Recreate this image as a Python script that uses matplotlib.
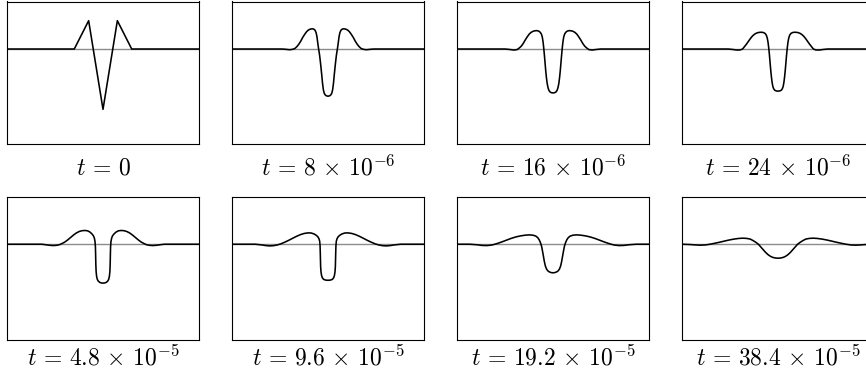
import matplotlib
matplotlib.use("Agg")
import matplotlib.pyplot as plt

plt.rcParams['mathtext.fontset'] = 'cm'
plt.rcParams['font.family'] = ['DejaVu Serif']

labels = [r'$t\,=\,0$', r'$t\,=\,8\,\times\,10^{-6}$', r'$t\,=\,16\,\times\,10^{-6}$',
          r'$t\,=\,24\,\times\,10^{-6}$', r'$t\,=\,4.8\,\times\,10^{-5}$',
          r'$t\,=\,9.6\,\times\,10^{-5}$', r'$t\,=\,19.2\,\times\,10^{-5}$',
          r'$t\,=\,38.4\,\times\,10^{-5}$']

x0 = [-1.0, -0.3, -0.15, 0.0, 0.15, 0.3, 1.0]
y0 = [0.0, 0.0, 0.47, -1.0, 0.47, 0.0, 0.0]

x1 = [-1.0, -0.48, -0.44, -0.40, -0.37, -0.345, -0.325, -0.305, -0.285, -0.265, -0.245,
      -0.225, -0.205, -0.185, -0.165, -0.148, -0.135, -0.124, -0.115, -0.107, -0.098,
      -0.088, -0.077, -0.066, -0.057, -0.049, -0.040, -0.030, -0.016, 0.0,
      0.016, 0.030, 0.040, 0.049, 0.057, 0.066, 0.077, 0.088, 0.098, 0.107, 0.115,
      0.124, 0.135, 0.148, 0.165, 0.185, 0.205, 0.225, 0.245, 0.265, 0.285, 0.305,
      0.325, 0.345, 0.37, 0.40, 0.44, 0.48, 1.0]
y1 = [0.0, 0.0, -0.005, -0.012, -0.005, 0.01, 0.04, 0.08, 0.13, 0.19, 0.24,
      0.285, 0.315, 0.33, 0.335, 0.33, 0.31, 0.27, 0.20, 0.10, 0.0,
      -0.10, -0.25, -0.42, -0.57, -0.67, -0.73, -0.76, -0.777, -0.782,
      -0.777, -0.76, -0.73, -0.67, -0.57, -0.42, -0.25, -0.10, 0.0, 0.10, 0.20,
      0.27, 0.31, 0.33, 0.335, 0.33, 0.315, 0.285, 0.24, 0.19, 0.13, 0.08,
      0.04, 0.01, -0.005, -0.012, -0.005, 0.0, 0.0]

x2 = [-1.0, -0.50, -0.45, -0.41, -0.375, -0.35, -0.33, -0.31, -0.29, -0.27, -0.25,
      -0.23, -0.21, -0.19, -0.17, -0.15, -0.135, -0.122, -0.112, -0.104, -0.097,
      -0.090, -0.083, -0.076, -0.069, -0.061, -0.052, -0.043, -0.032, -0.018, 0.0,
      0.018, 0.032, 0.043, 0.052, 0.061, 0.069, 0.076, 0.083, 0.090, 0.097,
      0.104, 0.112, 0.122, 0.135, 0.15, 0.17, 0.19, 0.21, 0.23, 0.25,
      0.27, 0.29, 0.31, 0.33, 0.35, 0.375, 0.41, 0.45, 0.50, 1.0]
y2 = [0.0, 0.0, -0.008, -0.017, -0.01, 0.02, 0.05, 0.095, 0.15, 0.20, 0.245,
      0.275, 0.293, 0.302, 0.305, 0.298, 0.28, 0.25, 0.20, 0.12, 0.02,
      -0.10, -0.23, -0.36, -0.47, -0.57, -0.64, -0.685, -0.71, -0.724, -0.728,
      -0.724, -0.71, -0.685, -0.64, -0.57, -0.47, -0.36, -0.23, -0.10, 0.02,
      0.12, 0.20, 0.25, 0.28, 0.298, 0.305, 0.302, 0.293, 0.275, 0.245,
      0.20, 0.15, 0.095, 0.05, 0.02, -0.01, -0.017, -0.008, 0.0, 0.0]

x3 = [-1.0, -0.52, -0.47, -0.43, -0.395, -0.37, -0.35, -0.33, -0.31, -0.29, -0.27,
      -0.25, -0.23, -0.21, -0.19, -0.17, -0.15, -0.135, -0.122, -0.112, -0.104,
      -0.097, -0.090, -0.083, -0.076, -0.069, -0.062, -0.054, -0.045, -0.033, -0.018, 0.0,
      0.018, 0.033, 0.045, 0.054, 0.062, 0.069, 0.076, 0.083, 0.090, 0.097,
      0.104, 0.112, 0.122, 0.135, 0.15, 0.17, 0.19, 0.21, 0.23, 0.25,
      0.27, 0.29, 0.31, 0.33, 0.35, 0.37, 0.395, 0.43, 0.47, 0.52, 1.0]
y3 = [0.0, 0.0, -0.008, -0.017, -0.015, 0.0, 0.04, 0.08, 0.125, 0.17, 0.21,
      0.24, 0.26, 0.272, 0.277, 0.278, 0.272, 0.258, 0.23, 0.18, 0.11,
      0.02, -0.09, -0.22, -0.35, -0.46, -0.55, -0.62, -0.66, -0.685, -0.695, -0.698,
      -0.695, -0.685, -0.66, -0.62, -0.55, -0.46, -0.35, -0.22, -0.09, 0.02,
      0.11, 0.18, 0.23, 0.258, 0.272, 0.278, 0.277, 0.272, 0.26, 0.24,
      0.21, 0.17, 0.125, 0.08, 0.04, 0.0, -0.015, -0.017, -0.008, 0.0, 0.0]

x4 = [-1.0, -0.64, -0.60, -0.56, -0.52, -0.485, -0.455, -0.43, -0.40, -0.37, -0.34,
      -0.31, -0.28, -0.25, -0.22, -0.19, -0.16, -0.135, -0.115, -0.10, -0.09,
      -0.083, -0.079, -0.077, -0.075, -0.072, -0.067, -0.06, -0.05, -0.035, -0.018, 0.0,
      0.018, 0.035, 0.05, 0.06, 0.067, 0.072, 0.075, 0.077, 0.079, 0.083,
      0.09, 0.10, 0.115, 0.135, 0.16, 0.19, 0.22, 0.25, 0.28, 0.31,
      0.34, 0.37, 0.40, 0.43, 0.455, 0.485, 0.52, 0.56, 0.60, 0.64, 1.0]
y4 = [0.0, 0.0, -0.008, -0.017, -0.022, -0.018, -0.008, 0.01, 0.035, 0.07, 0.11,
      0.15, 0.185, 0.21, 0.224, 0.228, 0.222, 0.20, 0.17, 0.14, 0.10,
      0.04, -0.05, -0.18, -0.33, -0.45, -0.53, -0.58, -0.61, -0.632, -0.642, -0.645,
      -0.642, -0.632, -0.61, -0.58, -0.53, -0.45, -0.33, -0.18, -0.05, 0.04,
      0.10, 0.14, 0.17, 0.20, 0.222, 0.228, 0.224, 0.21, 0.185, 0.15,
      0.11, 0.07, 0.035, 0.01, -0.008, -0.018, -0.022, -0.017, -0.008, 0.0, 0.0]

x5 = [-1.0, -0.76, -0.70, -0.65, -0.61, -0.57, -0.53, -0.49, -0.45, -0.41, -0.37,
      -0.33, -0.29, -0.25, -0.21, -0.175, -0.145, -0.12, -0.105, -0.094, -0.087,
      -0.083, -0.081, -0.079, -0.077, -0.073, -0.067, -0.058, -0.045, -0.025, 0.0,
      0.025, 0.045, 0.058, 0.067, 0.073, 0.077, 0.079, 0.081, 0.083,
      0.087, 0.094, 0.105, 0.12, 0.145, 0.175, 0.21, 0.25, 0.29, 0.33,
      0.37, 0.41, 0.45, 0.49, 0.53, 0.57, 0.61, 0.65, 0.70, 0.76, 1.0]
y5 = [0.0, 0.0, -0.01, -0.022, -0.028, -0.024, -0.012, 0.008, 0.035, 0.065, 0.098,
      0.13, 0.158, 0.178, 0.188, 0.186, 0.17, 0.145, 0.12, 0.09, 0.05,
      -0.02, -0.12, -0.25, -0.37, -0.46, -0.52, -0.56, -0.583, -0.595, -0.598,
      -0.595, -0.583, -0.56, -0.52, -0.46, -0.37, -0.25, -0.12, -0.02,
      0.05, 0.09, 0.12, 0.145, 0.17, 0.186, 0.188, 0.178, 0.158, 0.13,
      0.098, 0.065, 0.035, 0.008, -0.012, -0.024, -0.028, -0.022, -0.01, 0.0, 0.0]

x6 = [-1.0, -0.87, -0.80, -0.74, -0.69, -0.64, -0.59, -0.54, -0.49, -0.44, -0.39,
      -0.34, -0.29, -0.25, -0.21, -0.18, -0.16, -0.145, -0.132, -0.12, -0.11,
      -0.10, -0.09, -0.08, -0.068, -0.055, -0.04, -0.02, 0.0,
      0.02, 0.04, 0.055, 0.068, 0.08, 0.09, 0.10, 0.11, 0.12, 0.132,
      0.145, 0.16, 0.18, 0.21, 0.25, 0.29, 0.34, 0.39, 0.44, 0.49,
      0.54, 0.59, 0.64, 0.69, 0.74, 0.80, 0.87, 1.0]
y6 = [0.0, 0.0, -0.008, -0.02, -0.022, -0.014, 0.008, 0.035, 0.065, 0.095, 0.12,
      0.138, 0.15, 0.155, 0.15, 0.135, 0.11, 0.075, 0.03, -0.03, -0.11,
      -0.20, -0.29, -0.36, -0.41, -0.44, -0.458, -0.47, -0.474,
      -0.47, -0.458, -0.44, -0.41, -0.36, -0.29, -0.20, -0.11, -0.03, 0.03,
      0.075, 0.11, 0.135, 0.15, 0.155, 0.15, 0.138, 0.12, 0.095, 0.065,
      0.035, 0.008, -0.014, -0.022, -0.02, -0.008, 0.0, 0.0]

x7 = [-1.0, -0.92, -0.86, -0.81, -0.76, -0.71, -0.66, -0.61, -0.56, -0.51, -0.46,
      -0.41, -0.37, -0.33, -0.29, -0.26, -0.23, -0.205, -0.18, -0.155, -0.13,
      -0.105, -0.08, -0.055, -0.03, 0.0,
      0.03, 0.055, 0.08, 0.105, 0.13, 0.155, 0.18, 0.205, 0.23, 0.26,
      0.29, 0.33, 0.37, 0.41, 0.46, 0.51, 0.56, 0.61, 0.66, 0.71,
      0.76, 0.81, 0.86, 0.92, 1.0]
y7 = [0.0, -0.005, -0.012, -0.016, -0.012, 0.0, 0.016, 0.033, 0.052, 0.07, 0.085,
      0.096, 0.10, 0.097, 0.085, 0.06, 0.03, 0.0, -0.045, -0.09, -0.135,
      -0.172, -0.20, -0.218, -0.228, -0.232,
      -0.228, -0.218, -0.20, -0.172, -0.135, -0.09, -0.045, 0.0, 0.03, 0.06,
      0.085, 0.097, 0.10, 0.096, 0.085, 0.07, 0.052, 0.033, 0.016, 0.0,
      -0.012, -0.016, -0.012, -0.005, 0.0]

xs = [x0, x1, x2, x3, x4, x5, x6, x7]
ys = [y0, y1, y2, y3, y4, y5, y6, y7]

W, H = 866, 383
fig = plt.figure(figsize=(W / 100, H / 100), dpi=100)

col_left = [7.3, 232.3, 457.3, 682.3]
row_top = [1.5, 196.7]
aw, ah = 191.4, 142.8
label_y = [168, 358]

for i in range(8):
    r, c = divmod(i, 4)
    left = col_left[c]
    top = row_top[r]
    ax = fig.add_axes([left / W, 1 - (top + ah) / H, aw / W, ah / H])
    ax.axhline(0, color='#8c8c8c', lw=1.0, zorder=1)
    ax.plot(xs[i], ys[i], color='black', lw=1.15, zorder=2, solid_joinstyle='round')
    ax.set_xlim(-1, 1)
    ax.set_ylim(-1.58, 0.788)
    ax.set_xticks([])
    ax.set_yticks([])
    for s in ax.spines.values():
        s.set_linewidth(0.8)
        s.set_color('black')
    fig.text((left + aw / 2) / W, 1 - label_y[r] / H, labels[i],
             ha='center', va='center', fontsize=17)

fig.savefig('out.png', dpi=100)
